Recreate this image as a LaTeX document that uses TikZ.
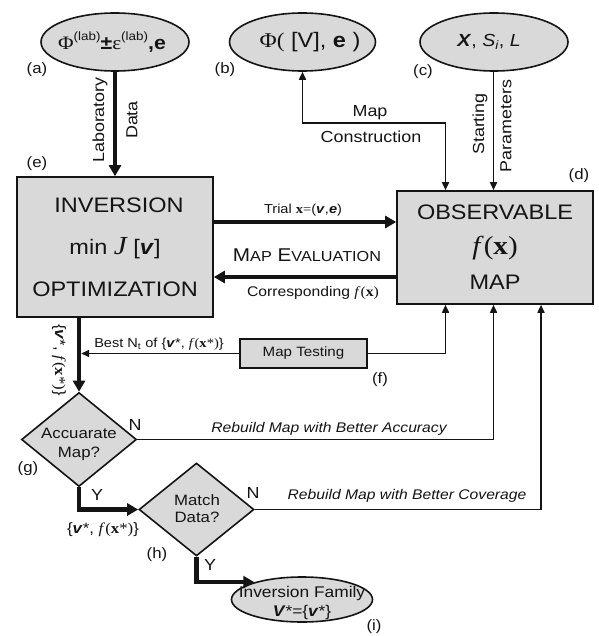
\documentclass[tikz,border=0pt]{standalone}
\usepackage{fontspec}
\setmainfont{Liberation Sans}[FakeStretch=1.12]
\newfontfamily\serif{Liberation Serif}[FakeStretch=1.12]
\usetikzlibrary{shapes.geometric,arrows.meta,calc}
\definecolor{boxfill}{RGB}{217,217,217}
\definecolor{ink}{RGB}{20,20,20}
\newcommand\setfs[1]{\fontsize{#1}{#1}\selectfont}
\newcommand\vstar{\textbf{\textit{v}}*}
\newcommand\fxstar{{\serif\textit{f}(\textbf{x}*)}}
\newcommand\fxx{{\serif\textit{f}(\textbf{x})}}
\newcommand\labsup{\raisebox{0.5em}{\setfs{12}(lab)}}
\newcommand\fsc[1]{{\fontsize{14.5}{14.5}\selectfont #1}}

\begin{document}
\begin{tikzpicture}[x=1pt,y=-1pt,
  every node/.style={text=ink},
  blob/.style={ellipse,draw=ink,line width=1.6pt,fill=boxfill,inner sep=0pt},
  bigbox/.style={rectangle,draw=ink,line width=1.6pt,fill=boxfill,align=center,inner sep=0pt},
  decide/.style={diamond,draw=ink,line width=1.6pt,fill=boxfill,inner sep=0pt,
    minimum width=115pt,minimum height=94pt},
  thinarrow/.style={draw=ink,line width=1.6pt,-{Triangle[length=8pt,width=7pt]}},
  thickarrow/.style={draw=ink,line width=4.5pt,-{Triangle[length=11pt,width=12pt]}},
  tagtxt/.style={font=\setfs{15}},
  flowtxt/.style={font=\setfs{16}},
  notetxt/.style={font=\setfs{14}\itshape},
]
\useasboundingbox (0,0) rectangle (598,636);

% ---- source ellipses
\node[blob,minimum width=148pt,minimum height=58pt] (a) at (115,42) {};
\node[font=\setfs{19}] (at) at (112,42) {{\serif Φ}\labsup\textbf{±}{\serif ε}\labsup\textbf{,e}};
\node[blob,minimum width=146pt,minimum height=58pt] (b) at (302.5,42) {};
\node[font=\setfs{21}] (bt) at (310,42) {{\serif Φ(} [V], \textbf{e} )};
\node[blob,minimum width=148pt,minimum height=58pt] (c) at (494,42) {};
\node[font=\setfs{17.5}] (ct) at (489,42) {\textbf{\textit{X}}, \textit{S\textsubscript{i}}, \textit{L}};

% ---- main boxes
\node[bigbox,minimum width=196pt,minimum height=140pt,font=\fontsize{21}{42}\selectfont] (e) at (115,247)
  {\hspace*{8pt}INVERSION\\min {\serif\itshape\setfs{26}J} [\textbf{\textit{v}}]\\OPTIMIZATION};
\node[bigbox,minimum width=196pt,minimum height=113pt,font=\fontsize{21}{35}\selectfont] (d) at (495,247.5)
  {OBSERVABLE\\{\serif\setfs{26}\textit{f}(\textbf{x})}\\MAP};
\node[rectangle,draw=ink,line width=1.6pt,fill=boxfill,minimum width=127pt,minimum height=29pt,
  inner sep=0pt,font=\setfs{13.5}] (f) at (303.5,353.5) {Map Testing};

% ---- decisions and result
\node[decide] (g) at (79,439.5) {};
\node[font=\fontsize{15}{19}\selectfont,align=center] (gt) at (79,444) {Accuarate\\Map?};
\node[decide,minimum width=115pt,minimum height=93pt] (h) at (196.5,509.5) {};
\node[font=\fontsize{15}{17}\selectfont,align=center] (ht) at (197,509) {Match\\Data?};
\node[blob,minimum width=141pt,minimum height=45pt] (i) at (302,599.5) {};
\node[font=\fontsize{15.5}{19}\selectfont,align=center] (it) at (302,602.5)
  {Inversion Family\\\textbf{\textit{V}}*=\{\textbf{\textit{v}}*\}};

% ---- bend points and columns
\coordinate (mc) at (445.5,123);
\coordinate (xA) at (445.5,0);
\coordinate (xB) at (493.5,0);
\coordinate (xC) at (541,0);
\coordinate (yT) at (0,222);
\coordinate (yC) at (0,277);

% ---- connectors
\draw[thickarrow] (a.south) -- (e.north);
\draw[thinarrow,{Triangle[length=8pt,width=7pt]}-{Triangle[length=8pt,width=7pt]}]
  (d.north -| mc) -- (mc) -| (b.south);
\draw[thinarrow] (c.south -| xB) -- (d.north -| xB);
\draw[thickarrow] (e.east |- yT) -- (d.west |- yT);
\draw[thickarrow] (d.west |- yC) -- (e.east |- yC);
\draw[thinarrow] (f.east) -| (d.south -| xA);
\draw[thinarrow,shorten >=2.2pt] (f.west) -- (f.west -| g.north);
\draw[thickarrow] (e.south -| g.north) -- (g.north);
\draw[thinarrow] (g.east) -| (d.south -| xB);
\draw[thickarrow] (g.south) |- (h.west);
\draw[thinarrow] (h.east) -| (d.south -| xC);
\draw[thickarrow] (h.south) |- (i.160);

% ---- connector labels
\node[flowtxt,rotate=90] (l1) at (100,120) {Laboratory};
\node[flowtxt,rotate=90] (l2) at (132,120) {Data};
\node[flowtxt] (l3) at (370,113) {Map};
\node[flowtxt] (l4) at (371,137) {Construction};
\node[flowtxt,rotate=90] (l5) at (480,124) {Starting};
\node[flowtxt,rotate=90] (l6) at (506,126) {Parameters};
\node[font=\setfs{13}] (l7) at (303,210)
  {Trial {\serif\textbf{x}}{\serif=}(\textbf{\textit{v}},\textbf{\textit{e}})};
\node[font=\setfs{18.5}] (l8) at (307,255) {M\fsc{AP} E\fsc{VALUATION}};
\node[font=\setfs{14}] (l9) at (313,293) {Corresponding \fxx};
\node[font=\setfs{13}] (l10) at (159,344) {Best N\textsubscript{t} of \{\vstar, \fxstar\}};
\node[font=\setfs{15},rotate=-90] (l11) at (59,360) {\{\vstar, \fxstar\}};
\node[font=\setfs{15}] (l12) at (103,530) {\{\vstar, \fxstar\}};
\node[flowtxt] (n1) at (135,425) {N};
\node[flowtxt] (y1) at (97,495) {Y};
\node[flowtxt] (n2) at (253,493) {N};
\node[flowtxt] (y2) at (210,565) {Y};
\node[notetxt] (r1) at (329,429) {Rebuild Map with Better Accuracy};
\node[notetxt] (r2) at (407,496) {Rebuild Map with Better Coverage};

% ---- part tags
\node[tagtxt] (ta) at (37,70) {(a)};
\node[tagtxt] (tb) at (225,70) {(b)};
\node[tagtxt] (tc) at (423,72) {(c)};
\node[tagtxt] (td) at (579,176) {(d)};
\node[tagtxt] (te) at (37,164) {(e)};
\node[tagtxt] (tf) at (380,380) {(f)};
\node[tagtxt] (tg) at (28,469) {(g)};
\node[tagtxt] (th) at (157,555) {(h)};
\node[tagtxt] (ti) at (374,627) {(i)};
\end{tikzpicture}
\end{document}
